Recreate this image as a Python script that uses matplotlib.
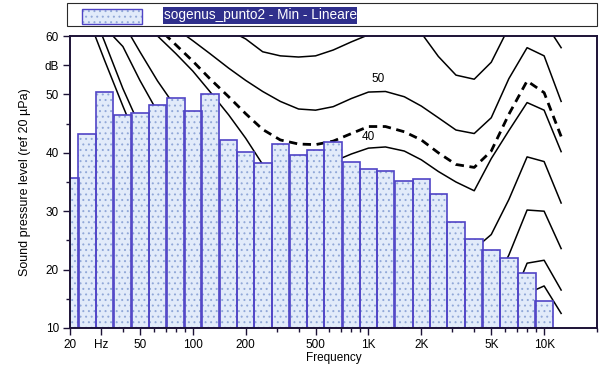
import numpy as np
import matplotlib
matplotlib.use("Agg")
import matplotlib.pyplot as plt
from matplotlib.patches import Rectangle
from matplotlib.ticker import FixedLocator, NullFormatter

plt.rcParams['font.family'] = ['Liberation Sans', 'DejaVu Sans']
plt.rcParams['hatch.linewidth'] = 0.7

# 1/3 octave band spectrum (dB)
bands = [20, 25, 31.5, 40, 50, 63, 80, 100, 125, 160, 200, 250, 315, 400, 500,
         630, 800, 1000, 1250, 1600, 2000, 2500, 3150, 4000, 5000, 6300, 8000, 10000]
levels = [35.6, 43.3, 50.4, 46.5, 46.8, 48.2, 49.3, 47.2, 50.1, 42.2, 40.1, 38.3,
          41.5, 39.6, 40.5, 41.8, 38.5, 37.2, 36.9, 35.1, 35.5, 33.0, 28.2, 25.2,
          23.4, 22.0, 19.5, 14.6]

# equal loudness contours at the 1/3 octave centres
contour_freq = [20, 25, 31.5, 40, 50, 63, 80, 100, 125, 160, 200, 250, 315, 400, 500,
                630, 800, 1000, 1250, 1600, 2000, 2500, 3150, 4000, 5000, 6300, 8000,
                10000, 12500]
phon_0 = [67.5, 63.6, 55.8, 48.0, 41.0, 35.5, 30.5, 26.0, 22.0, 18.5, 15.5, 13.0, 10.5,
          8.5, 7.0, 6.0, 5.0, 4.5, 5.0, 4.0, 2.0, 0.0, -1.0, -1.0, 2.0, 8.0, 15.9, 17.2, 12.5]
phon_10 = [72.0, 66.5, 59.0, 51.0, 44.5, 39.0, 34.0, 30.0, 26.5, 23.0, 20.0, 17.5, 15.5,
           13.5, 12.0, 11.0, 10.5, 10.5, 11.0, 10.0, 8.5, 6.5, 4.5, 4.0, 7.0, 13.5, 21.1,
           21.6, 16.5]
phon_20 = [75.0, 68.0, 61.5, 58.2, 52.4, 47.0, 42.0, 38.0, 34.5, 31.0, 28.5, 26.0, 24.0,
           22.5, 21.0, 20.5, 20.3, 20.5, 21.0, 20.0, 18.5, 16.5, 14.5, 14.0, 16.5, 22.5,
           30.2, 30.0, 23.6]
phon_30 = [80.0, 74.0, 68.0, 62.3, 57.3, 52.3, 47.8, 44.0, 41.0, 38.5, 36.5, 34.5, 33.0,
           31.5, 30.5, 30.0, 30.0, 30.5, 31.0, 30.0, 28.5, 26.5, 24.5, 23.5, 26.0, 32.0,
           39.3, 38.5, 31.4]
phon_40 = [85.0, 79.0, 73.0, 67.5, 63.5, 60.0, 57.0, 54.0, 50.5, 46.5, 42.5, 38.0, 37.5,
           37.5, 38.0, 38.5, 39.8, 40.8, 41.0, 40.3, 38.8, 36.8, 35.0, 33.5, 39.0, 43.8,
           48.6, 47.3, 40.2]
phon_loud = [90.0, 84.0, 78.0, 72.0, 67.0, 61.5, 58.5, 55.7, 52.7, 49.6, 46.7, 44.0,
             42.2, 41.5, 41.4, 42.0, 43.3, 44.5, 44.5, 43.6, 42.2, 40.0, 38.0, 37.5,
             40.3, 46.6, 52.3, 50.3, 42.8]
phon_50 = [95.0, 88.0, 81.0, 75.0, 70.0, 65.5, 61.3, 59.2, 57.0, 54.5, 52.4, 50.5, 48.8,
           47.5, 47.3, 47.9, 49.3, 50.4, 50.5, 49.6, 48.0, 46.0, 43.9, 43.3, 46.0, 52.7,
           58.0, 56.6, 48.8]
phon_60 = [100.0, 94.0, 88.0, 82.0, 76.0, 71.0, 67.0, 64.5, 62.5, 61.0, 59.5, 57.3, 56.6,
           56.4, 56.6, 57.6, 59.0, 60.2, 61.0, 61.0, 60.5, 56.5, 53.3, 52.6, 55.5, 61.5,
           64.0, 62.5, 58.0]

legend_text = "sogenus_punto2 - Min - Lineare"
xtick_pos = [20, 30, 50, 100, 200, 500, 1000, 2000, 5000, 10000]
xtick_lab = ["20", "Hz", "50", "100", "200", "500", "1K", "2K", "5K", "10K"]
ytick_pos = [10, 20, 30, 40, 50, 55, 60]
ytick_lab = ["10", "20", "30", "40", "50", "dB", "60"]

fig = plt.figure(figsize=(6.0, 3.76), dpi=100)
ax = fig.add_axes([70/600, 1-328/376, 527/600, 292/376])

ax.set_xscale('log')
ax.set_xlim(20, 20000)
ax.set_ylim(10, 60)

# contours sit behind the bars
for curve in [phon_0, phon_10, phon_20, phon_30, phon_40, phon_50, phon_60]:
    ax.plot(contour_freq, curve, color='black', lw=1.1, zorder=1)
ax.plot(contour_freq, phon_loud, color='black', lw=2.0, ls=(0, (3, 2)), zorder=1)

ax.text(1130, 52.6, "50", fontsize=8.5, ha='center', va='center', zorder=1)
ax.text(1000, 42.7, "40", fontsize=8.5, ha='center', va='center', zorder=1)

lo = np.array(bands) * 2 ** (-1/6)
hi = np.array(bands) * 2 ** (1/6)
heights = np.array(levels) - 10
ax.bar(lo, heights, width=hi - lo, bottom=10, align='edge', color='#e2ebfa',
       edgecolor='#91a8d8', hatch='...', lw=0, zorder=2)
ax.bar(lo, heights, width=hi - lo, bottom=10, align='edge', fill=False,
       edgecolor='#5044c6', lw=1.2, zorder=3)

for s in ax.spines.values():
    s.set_color('#1c1236')
    s.set_linewidth(1.4)
    s.set_zorder(4)

ax.xaxis.set_major_locator(FixedLocator(xtick_pos))
ax.set_xticklabels(xtick_lab)
minor_x = [v for d in [10, 100, 1000, 10000] for v in np.arange(2, 10) * d
           if 20 <= v <= 20000 and v not in xtick_pos]
ax.xaxis.set_minor_locator(FixedLocator(minor_x))
ax.xaxis.set_minor_formatter(NullFormatter())
ax.yaxis.set_major_locator(FixedLocator(ytick_pos))
ax.set_yticklabels(ytick_lab)
ax.yaxis.set_minor_locator(FixedLocator([15, 25, 35, 45]))
ax.tick_params(axis='both', which='major', length=5, width=1, labelsize=8.5,
               color='#1c1236', pad=3)
ax.tick_params(axis='both', which='minor', length=3, width=1, color='#1c1236')

ax.set_xlabel("Frequency", fontsize=8.5, labelpad=1)
ax.set_ylabel("Sound pressure level (ref 20 \u00b5Pa)", fontsize=9, labelpad=10)

# legend strip above the plot
fig.add_artist(Rectangle((67/600, 1-26/376), 530/600, 23/376, transform=fig.transFigure,
                         facecolor='white', edgecolor='#2a2a2a', lw=0.8))
fig.add_artist(Rectangle((82/600, 1-23.5/376), 60/600, 15/376, transform=fig.transFigure,
                         facecolor='#e2ebfa', edgecolor='#91a8d8', hatch='...', lw=0))
fig.add_artist(Rectangle((82/600, 1-23.5/376), 60/600, 15/376, transform=fig.transFigure,
                         fill=False, edgecolor='#5044c6', lw=1.0))
fig.add_artist(Rectangle((163/600, 1-24/376), 194/600, 17/376, transform=fig.transFigure,
                         facecolor='#2f2f8c', edgecolor='none'))
fig.text(164/600, 1-15.5/376, legend_text, color='white', fontsize=9.8, va='center')

fig.savefig("out.png", dpi=100)
